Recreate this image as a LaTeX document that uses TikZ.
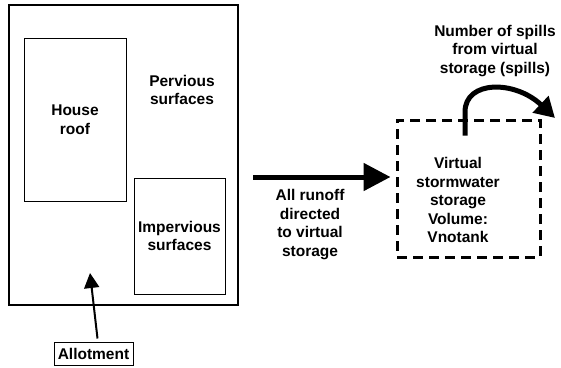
\documentclass[tikz,border=0pt]{standalone}
\usepackage{fontspec}
\setmainfont{Liberation Sans}
\usetikzlibrary{arrows.meta}

\tikzset{
  lbl/.style={font=\bfseries\fontsize{15.5}{18.5}\selectfont, align=center, inner sep=0pt},
  area/.style={draw, line width=1pt, inner sep=0pt},
}

\begin{document}
\begin{tikzpicture}[x=1pt,y=-1pt]
        \useasboundingbox (0,0) rectangle (561,367);

        % ---- allotment with its surfaces ----------------
        \node[area, line width=2pt, minimum width=229pt, minimum height=300pt] (allot) at (123.5,155) {};
        \node[area, lbl, minimum width=102pt, minimum height=163pt] (roof) at (75,119.5) {House\\roof};
        \node[area, lbl, minimum width=91pt, minimum height=116pt] (imperv) at (179.5,236) {Impervious\\surfaces};
        \node[lbl] (perv) at (182,90) {Pervious\\surfaces};

        % ---- label below the allotment ------------------
        \node[lbl, draw, line width=1pt, minimum width=79pt, minimum height=23pt] (allotlabel) at (93.5,353.5) {Allotment};
        \coordinate (allotpt) at (90,273);
        \draw[line width=2pt, -{Triangle[length=15pt,width=15pt]}] ([xshift=4pt,yshift=3pt]allotlabel.north) -- (allotpt);

        % ---- virtual storage (dashed) -------------------
        \node[draw, line width=3pt, dash pattern=on 10pt off 6pt, minimum width=143pt, minimum height=137pt] (store) at (468.5,188.5) {};
        \node[lbl] (storetext) at (458,200) {Virtual\\stormwater\\storage\\Volume:\\Vnotank};

        % ---- runoff arrow --------------------------------
        \draw[line width=5pt, -{Triangle[length=27pt,width=27pt]}] ([xshift=14pt,yshift=-22pt]allot.east) -- ([xshift=-5pt,yshift=11.5pt]store.west);
        \node[lbl] (runoff) at (310,224.5) {All runoff\\directed\\to virtual\\storage};

        % ---- spills out of the storage -------------------
        \coordinate (spillpt) at (555,118);
        \draw[line width=5pt, -{Triangle[length=20pt,width=22pt]}] ([xshift=-3.5pt,yshift=-17pt]store.north) -- (465,112) .. controls (465,80) and (515,80) .. (spillpt);
        \node[lbl] (spills) at (495,51) {Number of spills\\from virtual\\storage (spills)};
\end{tikzpicture}
\end{document}
